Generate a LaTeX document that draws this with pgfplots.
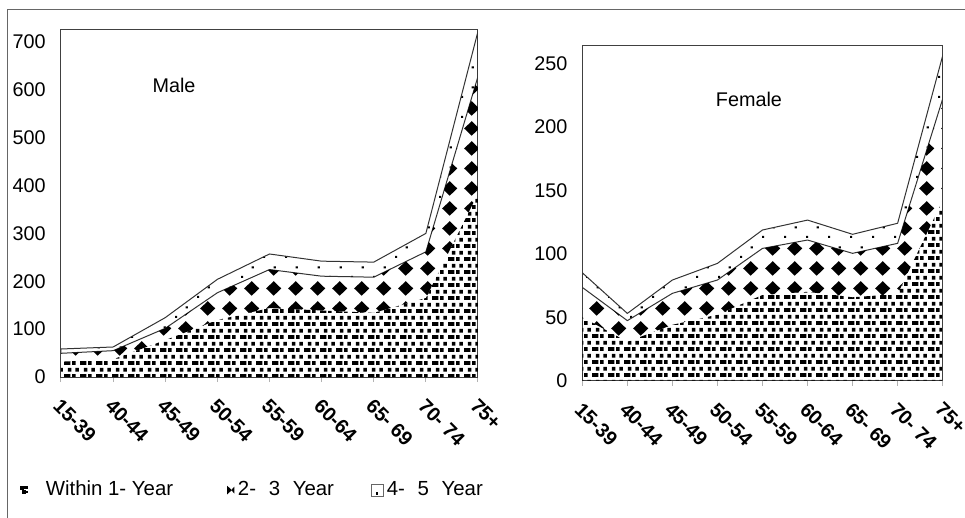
\documentclass[border=0pt]{standalone}
\usepackage{fontspec}
\setmainfont{Liberation Sans}
\usepackage{pgfplots}
\pgfplotsset{compat=1.18}
\usetikzlibrary{patterns}

% Within 1 Year: dense small squares
\pgfdeclarepatternformonly{wone}{\pgfqpoint{0pt}{0pt}}{\pgfqpoint{8pt}{6.4pt}}{\pgfqpoint{8pt}{6.4pt}}{%
  \pgfpathrectangle{\pgfqpoint{0pt}{0pt}}{\pgfqpoint{3.4pt}{1.9pt}}%
  \pgfpathrectangle{\pgfqpoint{4.3pt}{0pt}}{\pgfqpoint{1.9pt}{1.9pt}}%
  \pgfpathrectangle{\pgfqpoint{2pt}{3.2pt}}{\pgfqpoint{1.9pt}{1.9pt}}%
  \pgfpathrectangle{\pgfqpoint{6pt}{3.2pt}}{\pgfqpoint{1.9pt}{1.9pt}}%
  \pgfusepath{fill}}
% 2-3 Year: diamonds on a grid
\pgfdeclarepatternformonly{dtwo}{\pgfqpoint{0pt}{0pt}}{\pgfqpoint{10.85pt}{10pt}}{\pgfqpoint{10.85pt}{10pt}}{%
  \pgfpathmoveto{\pgfqpoint{1.6pt}{5pt}}%
  \pgfpathlineto{\pgfqpoint{5.42pt}{8.8pt}}%
  \pgfpathlineto{\pgfqpoint{9.25pt}{5pt}}%
  \pgfpathlineto{\pgfqpoint{5.42pt}{1.2pt}}%
  \pgfpathclose
  \pgfusepath{fill}}
% 4-5 Year: sparse dots
\pgfdeclarepatternformonly{dfour}{\pgfqpoint{0pt}{0pt}}{\pgfqpoint{10.85pt}{10pt}}{\pgfqpoint{10.85pt}{10pt}}{%
  \pgfpathrectangle{\pgfqpoint{0pt}{0pt}}{\pgfqpoint{1.1pt}{1.1pt}}%
  \pgfpathrectangle{\pgfqpoint{5.42pt}{5pt}}{\pgfqpoint{1.1pt}{1.1pt}}%
  \pgfusepath{fill}}

\pgfplotsset{
  agechart/.style={
    scale only axis,
    xmin=0, xmax=8, ymin=0,
    xtick={0,...,8},
    xticklabels={15-39,40-44,45-49,50-54,55-59,60-64,65- 69,70- 74,75+},
    font=\fontsize{9.9}{11.9}\selectfont,
    /pgf/number format/assume math mode=true,
    axis line style={draw=black!75, line width=0.5pt},
    tick align=outside,
    xtick pos=bottom, ytick pos=left,
    xtick style={draw=black!30, line width=0.5pt},
    ytick style={draw=none},
    major tick length=2.5pt,
    xticklabel style={font=\fontsize{9.9}{11.9}\selectfont\bfseries, inner sep=0pt, anchor=north west, xshift=0.5pt, yshift=-7.5pt, rotate=-45},
    yticklabel style={inner sep=0pt, xshift=-5pt},
    stack plots=y,
  },
}

\begin{document}
\begin{tikzpicture}
\useasboundingbox (0pt,0pt) rectangle (482.5pt,-259pt);
\draw[black!60, line width=0.5pt] (3.75pt,-275pt) -- (3.75pt,-5pt) -- (500pt,-5pt);

% ---------------- Male ----------------
\begin{axis}[agechart,
  at={(30.5pt,-188.5pt)}, anchor=south west,
  width=208.5pt, height=174pt,
  ymax=727, ytick={0,100,...,700},
  legend columns=3,
  legend style={draw=none, fill=none, inner sep=0pt, outer sep=0pt,
    at={(axis description cs:-0.0983,-0.325)}, anchor=west,
    nodes={inner sep=0pt},
    font=\fontsize{10.2}{12}\selectfont,
    /tikz/every even column/.append style={column sep=18pt}},
]
\addplot[forget plot, draw=none, pattern=wone]
  coordinates {(0,32) (1,37) (2,77) (3,119) (4,144) (5,139) (6,134) (7,165) (8,383)} \closedcycle;
\addplot[forget plot, draw=none, pattern=dtwo]
  coordinates {(0,17.5) (1,18) (2,24.7) (3,57) (4,80.5) (5,71.6) (6,74.5) (7,96.5) (8,245)} \closedcycle;
\addplot[forget plot, draw=black!80, line width=0.5pt, pattern=dfour]
  coordinates {(0,9) (1,7.7) (2,22.3) (3,28) (4,32.5) (5,31.4) (6,31.5) (7,38.5) (8,94)} \closedcycle;

\addlegendimage{legend image code/.code={
    \fill[black] (0pt,0.3pt) rectangle (1.6pt,1.7pt);
    \fill[black] (2.2pt,0.6pt) rectangle (3.5pt,1.7pt);
    \fill[black] (0.9pt,-1.7pt) rectangle (2.4pt,-0.4pt);
    \fill[black] (2.9pt,-1.4pt) rectangle (3.5pt,-0.5pt);
  }}
\addlegendentry{\hspace*{9pt}Within 1- Year\hspace*{9pt}}
\addlegendimage{legend image code/.code={
    \fill[black] (0pt,-1.7pt) -- (1.8pt,0pt) -- (0pt,1.7pt) -- cycle;
    \fill[black] (3.2pt,-1.2pt) -- (2.1pt,0pt) -- (3.2pt,1.2pt) -- cycle;
  }}
\addlegendentry{\hspace*{1.8pt}2- \hspace{3.5pt}3 \hspace{3.5pt}Year\hspace*{0.5pt}}
\addlegendimage{legend image code/.code={
    \draw[black!60, line width=0.4pt] (0pt,-3pt) rectangle (6pt,3pt);
    \fill[black] (2.4pt,-2.2pt) rectangle (3.2pt,-1.4pt);
  }}
\addlegendentry{\hspace*{1.5pt}4- \hspace{3.5pt}5 \hspace{3.5pt}Year}
\node at (axis description cs:0.271,0.839) {Male};
\end{axis}

% ---------------- Female ----------------
\begin{axis}[agechart,
  at={(291.15pt,-190.35pt)}, anchor=south west,
  width=180.2pt, height=167.85pt,
  ymax=264.4, ytick={0,50,...,250},
  yticklabel style={xshift=0.2pt},
]
\addplot[draw=none, pattern=wone]
  coordinates {(0,50) (1,30.7) (2,44) (3,52) (4,67.5) (5,70) (6,65.7) (7,68.3) (8,142)} \closedcycle;
\addplot[draw=none, pattern=dtwo]
  coordinates {(0,23.5) (1,16.6) (2,24.8) (3,27.3) (4,36.7) (5,40.8) (6,34.6) (7,39.9) (8,80)} \closedcycle;
\addplot[draw=black!80, line width=0.5pt, pattern=dfour]
  coordinates {(0,11.5) (1,5.7) (2,10.5) (3,13.1) (4,14.5) (5,15.7) (6,15) (7,15.8) (8,34)} \closedcycle;
\node at (axis description cs:0.4625,0.839) {Female};
\end{axis}
\end{tikzpicture}
\end{document}
